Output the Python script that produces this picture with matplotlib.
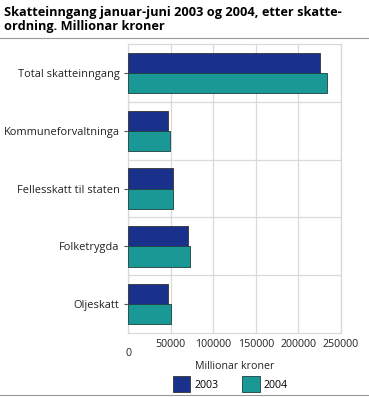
import numpy as np
import matplotlib.pyplot as plt

categories = ['Total skatteinngang', 'Kommuneforvaltninga', 'Fellesskatt til staten',
              'Folketrygda', 'Oljeskatt']
values_2003 = [225200, 47200, 52300, 69900, 46400]
values_2004 = [233800, 49200, 53100, 72200, 50000]
years = ['2003', '2004']
xticks = [0, 50000, 100000, 150000, 200000, 250000]

plt.rcParams['font.family'] = ['Open Sans', 'DejaVu Sans']

fig = plt.figure(figsize=(3.69, 3.97), dpi=100)
ax = fig.add_axes([0.347, 0.161, 0.577, 0.728])

y = np.arange(len(categories))
h = 0.35
ax.barh(y - h / 2, values_2003, height=h, color='#1a318c', edgecolor='#333333',
        linewidth=0.6, label=years[0], zorder=3)
ax.barh(y + h / 2, values_2004, height=h, color='#1a9896', edgecolor='#1f3f3f',
        linewidth=0.6, label=years[1], zorder=3)

ax.set_xlim(0, 250000)
ax.set_ylim(len(categories) - 0.5, -0.5)
ax.set_xticks(xticks)
ax.set_xticklabels([str(v) for v in xticks], fontsize=7.7, color='#222222')
ax.set_yticks(y)
ax.set_yticklabels(categories, fontsize=7.9, color='#222222')
ax.set_yticks(np.arange(len(categories) - 1) + 0.5, minor=True)
ax.tick_params(axis='y', which='minor', length=0)
ax.tick_params(axis='y', which='major', length=3, color='#555555', pad=3)
ax.tick_params(axis='x', length=0, pad=4)
ax.xaxis.get_major_ticks()[0].set_pad(11)

ax.grid(axis='x', color='#d9d9d9', linewidth=0.9, zorder=0)
ax.grid(axis='y', which='minor', color='#d9d9d9', linewidth=0.9, zorder=0)
for s in ax.spines.values():
    s.set_color('#d9d9d9')
    s.set_linewidth(0.9)

ax.set_xlabel('Millionar kroner', fontsize=7.7, color='#222222', labelpad=1)

fig.legend(loc='lower center', bbox_to_anchor=(0.625, -0.012), ncol=2, frameon=False,
           fontsize=7.7, handlelength=1.6, handleheight=1.9, columnspacing=2.2,
           handletextpad=0.4)

fig.text(0.010, 0.985, 'Skatteinngang januar-juni 2003 og 2004, etter skatte-\nordning. Millionar kroner',
         fontsize=9.2, fontweight='bold', va='top', ha='left', linespacing=1.15)
fig.add_artist(plt.Line2D([0, 1], [0.904, 0.904], color='#999999', linewidth=0.8))
fig.add_artist(plt.Line2D([0, 1], [0.004, 0.004], color='#999999', linewidth=0.8))

fig.savefig('out.png', dpi=100)
